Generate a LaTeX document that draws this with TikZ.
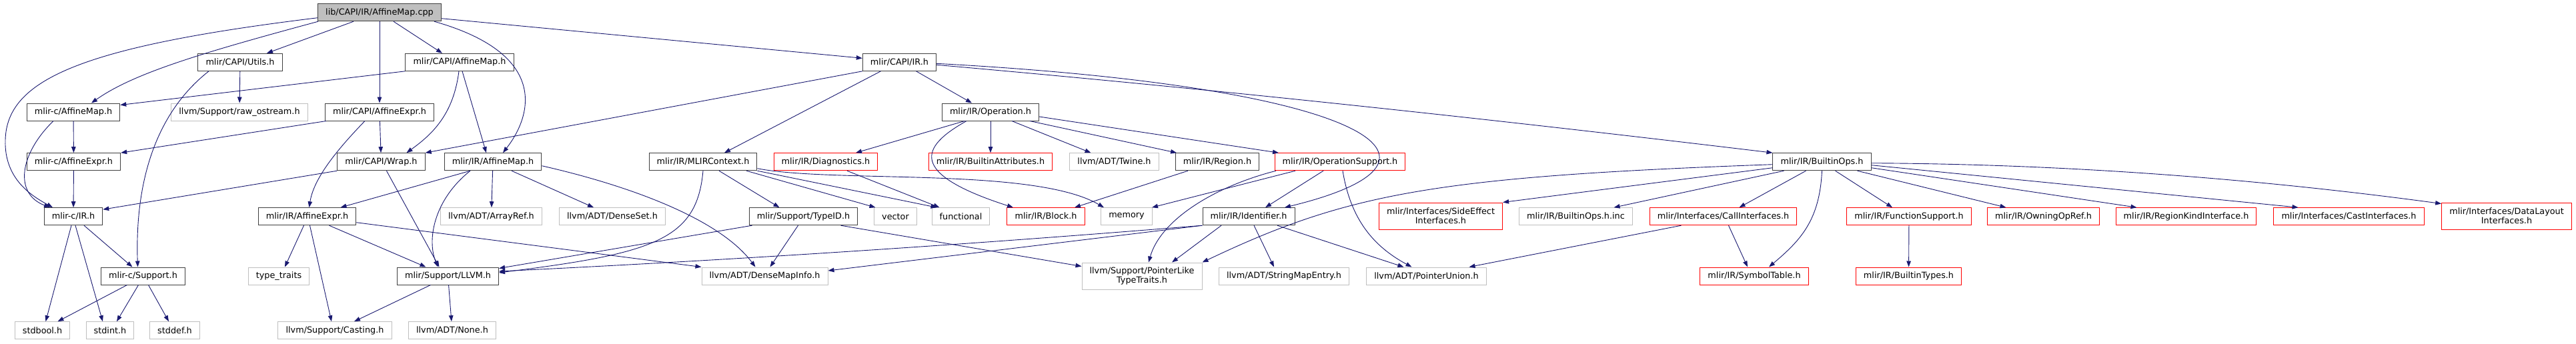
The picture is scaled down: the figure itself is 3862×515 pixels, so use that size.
\documentclass[tikz,border=0pt]{standalone}
\usepackage{fontspec}
\setmainfont{DejaVu Sans}
\usetikzlibrary{arrows.meta}
\definecolor{edgeblue}{RGB}{25,25,112}
\definecolor{boxgray}{RGB}{191,191,191}
\begin{document}
\begin{tikzpicture}[
  x=1pt, y=-1pt,
  file/.style={draw=black!75, line width=1pt, minimum height=26pt, inner xsep=11.6pt, inner ysep=0pt, align=center, font=\fontsize{12.8pt}{14pt}\selectfont},
  main/.style={file, fill=black!25},
  sys/.style={file, draw=boxgray},
  trunc/.style={file, draw=red},
  tall/.style={minimum height=40pt},
  line/.style={draw=edgeblue, line width=0.9pt, -{Triangle[length=9pt,width=6.5pt]}}
]
\useasboundingbox (0,0) rectangle (3862,515);

\node[main] (root) at (569,18.7) {lib/CAPI/IR/AffineMap.cpp};
\node[file] (utils) at (360,93.3) {mlir/CAPI/Utils.h};
\node[file] (capimap) at (689,93.3) {mlir/CAPI/AffineMap.h};
\node[file] (capiir) at (1348.5,93.3) {mlir/CAPI/IR.h};
\node[file] (cmap) at (110,168) {mlir-c/AffineMap.h};
\node[sys] (rawos) at (359,168) {llvm/Support/raw\_ostream.h};
\node[file] (capiexpr) at (569,168) {mlir/CAPI/AffineExpr.h};
\node[file] (op) at (1485,168) {mlir/IR/Operation.h};
\node[file] (cexpr) at (110.5,242.7) {mlir-c/AffineExpr.h};
\node[file] (wrap) at (571.5,242.7) {mlir/CAPI/Wrap.h};
\node[file] (irmap) at (739,242.7) {mlir/IR/AffineMap.h};
\node[file] (ctx) at (1054,242.7) {mlir/IR/MLIRContext.h};
\node[trunc] (diag) at (1238,242.7) {mlir/IR/Diagnostics.h};
\node[trunc] (battr) at (1485,242.7) {mlir/IR/BuiltinAttributes.h};
\node[sys] (twine) at (1670.5,242.7) {llvm/ADT/Twine.h};
\node[file] (region) at (1825,242.7) {mlir/IR/Region.h};
\node[trunc] (opsupport) at (2009,242.7) {mlir/IR/OperationSupport.h};
\node[file] (bops) at (2731.5,242.7) {mlir/IR/BuiltinOps.h};
\node[file] (cir) at (110,324.7) {mlir-c/IR.h};
\node[file] (irexpr) at (460.5,324.7) {mlir/IR/AffineExpr.h};
\node[sys] (arrayref) at (736.5,324.7) {llvm/ADT/ArrayRef.h};
\node[sys] (denseset) at (918,324.7) {llvm/ADT/DenseSet.h};
\node[file] (typeid) at (1204.5,324.7) {mlir/Support/TypeID.h};
\node[sys] (vector) at (1342.5,324.7) {vector};
\node[sys] (functional) at (1440.5,324.7) {functional};
\node[trunc] (block) at (1568,324.7) {mlir/IR/Block.h};
\node[sys] (memory) at (1689,324.7) {memory};
\node[file] (ident) at (1872,324.7) {mlir/IR/Identifier.h};
\node[trunc, tall] (sideeff) at (2160,324) {mlir/Interfaces/SideEffect\\Interfaces.h};
\node[sys] (bopsinc) at (2362.5,324.7) {mlir/IR/BuiltinOps.h.inc};
\node[trunc] (callif) at (2583.5,324.7) {mlir/Interfaces/CallInterfaces.h};
\node[trunc] (funcsup) at (2862,324.7) {mlir/IR/FunctionSupport.h};
\node[trunc] (owning) at (3063.5,324.7) {mlir/IR/OwningOpRef.h};
\node[trunc] (regkind) at (3277.5,324.7) {mlir/IR/RegionKindInterface.h};
\node[trunc] (castif) at (3521.5,324.7) {mlir/Interfaces/CastInterfaces.h};
\node[trunc, tall] (datalayout) at (3758,324) {mlir/Interfaces/DataLayout\\Interfaces.h};
\node[file] (csupport) at (214.5,414) {mlir-c/Support.h};
\node[sys] (typetraits) at (418,414) {type\_traits};
\node[file] (llvmh) at (671.5,414) {mlir/Support/LLVM.h};
\node[sys] (densemap) at (1146.5,414) {llvm/ADT/DenseMapInfo.h};
\node[sys, tall] (ptrlike) at (1712,414) {llvm/Support/PointerLike\\TypeTraits.h};
\node[sys] (strmap) at (1925,414) {llvm/ADT/StringMapEntry.h};
\node[sys] (ptrunion) at (2138.5,414) {llvm/ADT/PointerUnion.h};
\node[trunc] (symtab) at (2630,414) {mlir/IR/SymbolTable.h};
\node[trunc] (btypes) at (2861.5,414) {mlir/IR/BuiltinTypes.h};
\node[sys] (stdbool) at (63.5,495.7) {stdbool.h};
\node[sys] (stdint) at (165,495.7) {stdint.h};
\node[sys] (stddef) at (262,495.7) {stddef.h};
\node[sys] (casting) at (502,495.7) {llvm/Support/Casting.h};
\node[sys] (nonehdr) at (678,495.7) {llvm/ADT/None.h};

\draw[line] ([yshift=-8pt]root.west) .. controls (120,70) and (10,120) .. (8,210) .. controls (6,270) and (50,295) .. ([xshift=-31pt]cir.north);
\draw[line] ([xshift=-92pt]root.south) .. controls (300,80) and (200,110) .. ([xshift=27pt]cmap.north);
\draw[line] ([xshift=-39pt]root.south) -- ([xshift=40pt]utils.north);
\draw[line] (root) -- (capiexpr);
\draw[line] ([xshift=21pt]root.south) -- ([xshift=-26pt]capimap.north);
\draw[line] ([xshift=82pt]root.south) .. controls (820,80) and (800,170) .. ([xshift=15pt]irmap.north);
\draw[line] ([yshift=-9pt]root.east) -- ([yshift=6pt]capiir.west);

\draw[line] (utils) -- (rawos);
\draw[line] ([xshift=-47pt]utils.south) .. controls (220,180) and (203,300) .. ([xshift=-8pt]csupport.north);

\draw[line] (capimap.south west) -- ([yshift=-3pt]cmap.north east);
\draw[line] ([xshift=-1pt]capimap.south) .. controls (680,170) and (650,200) .. ([xshift=38pt]wrap.north);
\draw[line] ([xshift=4pt]capimap.south) -- ([xshift=-10pt]irmap.north);

\draw[line] (cmap) -- (cexpr);
\draw[line] ([xshift=-30pt]cmap.south) .. controls (30,230) and (20,290) .. ([xshift=-35pt]cir.north);

\draw[line] ([xshift=-80pt]capiexpr.south) -- (cexpr.north east);
\draw[line] (capiexpr) -- (wrap);
\draw[line] ([xshift=-22pt]capiexpr.south) .. controls (500,230) and (470,270) .. ([xshift=3pt]irexpr.north);

\draw[line] (cexpr) -- (cir);

\draw[line] (capiir.south west) -- (wrap.north east);
\draw[line] ([xshift=-28pt]capiir.south) -- ([xshift=32pt]ctx.north);
\draw[line] ([xshift=25pt]capiir.south) -- ([xshift=-28pt]op.north);
\draw[line] ([yshift=-2pt]capiir.east) .. controls (2050,130) and (2220,240) .. ([xshift=54pt]ident.north);
\draw[line] ([yshift=-4pt]capiir.east) .. controls (1822,134) and (2239,179) .. (bops.north west);

\draw[line] (wrap.south west) -- ([yshift=-3pt]cir.north east);
\draw[line] ([xshift=8pt]wrap.south) -- ([xshift=-13pt]llvmh.north);

\draw[line] ([xshift=-34pt]irmap.south) -- ([xshift=50pt]irexpr.north);
\draw[line] ([xshift=-34pt]irmap.south) .. controls (650,300) and (640,360) .. ([xshift=-15pt]llvmh.north);
\draw[line] (irmap) -- (arrayref);
\draw[line] ([xshift=28pt]irmap.south) -- ([xshift=-28pt]denseset.north);
\draw[line] ([yshift=-6pt]irmap.east) .. controls (950,280) and (1080,330) .. ([xshift=-14pt]densemap.north);

\draw[line] (ctx.south) .. controls (1045,360) and (980,380) .. ([yshift=5pt]llvmh.east);
\draw[line] ([xshift=24pt]ctx.south) -- ([xshift=-36pt]typeid.north);
\draw[line] ([xshift=65pt]ctx.south) -- ([xshift=-30pt]vector.north);
\draw[line] (ctx.south east) -- ([xshift=-36pt]functional.north);
\draw[line] ([yshift=-10pt]ctx.east) .. controls (1250,275) and (1550,250) .. ([xshift=-34pt]memory.north);

\draw[line] ([xshift=32pt]diag.south) -- ([xshift=-32pt]functional.north);

\draw[line] ([xshift=-39pt]op.south) -- ([xshift=45pt]diag.north);
\draw[line] ([xshift=-36pt]op.south) .. controls (1380,220) and (1360,260) .. ([xshift=-49pt]block.north);
\draw[line] (op) -- (battr);
\draw[line] ([xshift=32pt]op.south) -- ([xshift=-35pt]twine.north);
\draw[line] ([xshift=59pt]op.south) -- ([xshift=-61pt]region.north);
\draw[line] ([yshift=-7pt]op.east) -- ([xshift=-92pt]opsupport.north);

\draw[line] ([xshift=-44pt]region.south) -- ([xshift=43pt]block.north);

\draw[line] ([xshift=-96pt]opsupport.south) .. controls (1820,280) and (1740,330) .. ([xshift=10pt]ptrlike.north);
\draw[line] ([xshift=-67pt]opsupport.south) -- ([xshift=38pt]memory.north);
\draw[line] ([xshift=-25pt]opsupport.south) -- ([xshift=25pt]ident.north);
\draw[line] ([xshift=4pt]opsupport.south) .. controls (2025,330) and (2060,370) .. ([xshift=-22pt]ptrunion.north);

\draw[line] (ident.south west) .. controls (1451,367) and (1099,390) .. ([yshift=7pt]llvmh.east);
\draw[line] (ident.south west) -- ([yshift=8pt]densemap.east);
\draw[line] ([xshift=-41pt]ident.south) -- ([xshift=45pt]ptrlike.north);
\draw[line] ([xshift=8pt]ident.south) -- ([xshift=-15pt]strmap.north);
\draw[line] ([xshift=43pt]ident.south) -- ([xshift=-34pt]ptrunion.north);

\draw[line] ([xshift=-77pt]typeid.south) -- ([yshift=-2pt]llvmh.north east);
\draw[line] ([xshift=-8pt]typeid.south) -- ([xshift=8pt]densemap.north);
\draw[line] ([xshift=56pt]typeid.south) -- ([yshift=-6pt]ptrlike.north west);

\draw[line] ([xshift=-5pt]irexpr.south) -- ([xshift=9pt]typetraits.north);
\draw[line] ([xshift=4pt]irexpr.south) -- ([xshift=-5pt]casting.north);
\draw[line] ([xshift=33pt]irexpr.south) -- ([xshift=-33pt]llvmh.north);
\draw[line] ([yshift=-9pt]irexpr.east) -- (densemap.north west);

\draw[line] ([xshift=16pt]cir.south) -- ([xshift=-16pt]csupport.north);
\draw[line] ([xshift=-3pt]cir.south) -- ([xshift=5pt]stdbool.north);
\draw[line] ([xshift=3pt]cir.south) -- ([xshift=-11pt]stdint.north);

\draw[line] ([xshift=-24pt]csupport.south) -- ([xshift=23pt]stdbool.north);
\draw[line] ([xshift=-7pt]csupport.south) -- ([xshift=10pt]stdint.north);
\draw[line] ([xshift=8pt]csupport.south) -- ([xshift=-9pt]stddef.north);

\draw[line] ([xshift=-26pt]llvmh.south) -- ([xshift=29pt]casting.north);
\draw[line] (llvmh) -- (nonehdr);

\draw[line] ([yshift=-4pt]bops.west) .. controls (2150,265) and (2020,290) .. (ptrlike.north east);
\draw[line] ([yshift=-9pt]bops.west) -- (sideeff.north east);
\draw[line] ([xshift=-57pt]bops.south) -- ([xshift=57pt]bopsinc.north);
\draw[line] ([xshift=-24pt]bops.south) -- ([xshift=24pt]callif.north);
\draw[line] (bops.south) .. controls (2728,330) and (2700,360) .. ([xshift=22pt]symtab.north);
\draw[line] ([xshift=20pt]bops.south) -- ([xshift=-25pt]funcsup.north);
\draw[line] ([xshift=53pt]bops.south) -- ([xshift=-56pt]owning.north);
\draw[line] ([yshift=-9pt]bops.east) -- ([xshift=-74pt]regkind.north);
\draw[line] ([yshift=-5pt]bops.east) -- ([xshift=-76pt]castif.north);
\draw[line] ([yshift=-2pt]bops.east) .. controls (3091,246) and (3375,267) .. ([yshift=-2pt]datalayout.north west);

\draw[line] ([xshift=8pt]callif.south) -- ([xshift=-10pt]symtab.north);
\draw[line] ([xshift=-63pt]callif.south) -- ([xshift=64pt]ptrunion.north);

\draw[line] (funcsup) -- (btypes);
\end{tikzpicture}
\end{document}
